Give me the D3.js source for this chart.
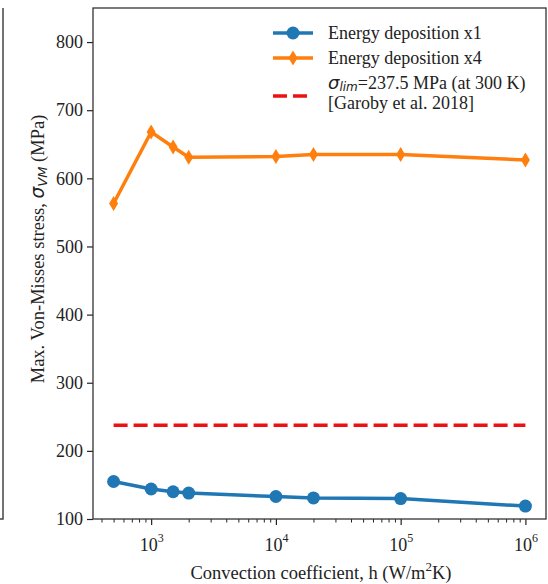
<!DOCTYPE html>
<html>
<head>
<meta charset="utf-8">
<script src="https://cdn.jsdelivr.net/npm/d3@7"></script>
<style>
  body { margin: 0; background: #fff; }
  text { font-family: "Liberation Serif", "Times New Roman", serif; }
</style>
</head>
<body>
<div class="main-container"></div>
<script>
// values
const hValues = [500, 1000, 1500, 2000, 10000, 20000, 100000, 1000000];
const stressX1 = [155, 144, 140, 138, 133, 131, 130, 119];
const stressX4 = [563, 668, 646, 631, 632, 635, 635, 627];
const sigmaLim = 237.5;
const yTicks = [100, 200, 300, 400, 500, 600, 700, 800];
const xMajor = [1e3, 1e4, 1e5, 1e6];
const legendNames = ["Energy deposition x1", "Energy deposition x4"];

const W = 548, H = 584;
let margin = {top: 8, right: 2, bottom: 65, left: 93},
  width = W - margin.left - margin.right,
  height = H - margin.top - margin.bottom;

const root = d3.select(".main-container")
  .append("svg")
  .attr("width", W)
  .attr("height", H);

// edge of the neighbouring panel, cut off at the left
root.append("path")
  .attr("d", `M3,${margin.top} V${margin.top + height} H0`)
  .attr("fill", "none")
  .attr("stroke", "#444")
  .attr("stroke-width", 1.5);

const svg = root.append("g")
  .attr("transform", "translate(" + margin.left + "," + margin.top + ")");

// matplotlib-like 5% margin in log space
const lo = Math.log10(500), hi = Math.log10(1e6), pad = (hi - lo) * 0.05;
let x = d3.scaleLog()
  .domain([Math.pow(10, lo - pad), Math.pow(10, hi + pad)])
  .range([0, width]);

let y = d3.scaleLinear()
  .domain([100, 850])
  .range([height, 0]);

// minor ticks on the log axis
const minor = [];
for (let e = 2; e <= 6; e++) {
  for (let m = 2; m <= 9; m++) {
    const v = m * Math.pow(10, e);
    if (v >= x.domain()[0] && v <= x.domain()[1]) minor.push(v);
  }
}
svg.append("g")
  .attr("transform", "translate(0," + height + ")")
  .call(d3.axisBottom(x).tickValues(minor).tickSize(3.5).tickFormat(""))
  .call(g => g.select(".domain").remove())
  .call(g => g.selectAll("line").attr("stroke", "#222").attr("stroke-width", 1));

const xAxis = svg.append("g")
  .attr("transform", "translate(0," + height + ")")
  .call(d3.axisBottom(x).tickValues(xMajor).tickSize(6).tickFormat(""))
  .call(g => g.select(".domain").remove())
  .call(g => g.selectAll("line").attr("stroke", "#222").attr("stroke-width", 1.2));

xAxis.selectAll(".tick").append("text")
  .attr("y", 32)
  .attr("fill", "#222")
  .attr("font-size", 18)
  .attr("text-anchor", "middle")
  .each(function (d) {
    const t = d3.select(this);
    t.append("tspan").text("10");
    t.append("tspan").attr("dy", -9).attr("font-size", 12).text(Math.round(Math.log10(d)));
  });

svg.append("g")
  .call(d3.axisLeft(y).tickValues(yTicks).tickSize(6).tickPadding(4))
  .call(g => g.select(".domain").remove())
  .call(g => g.selectAll("line").attr("stroke", "#222").attr("stroke-width", 1.2))
  .call(g => g.selectAll("text")
    .attr("fill", "#222")
    .attr("font-size", 18)
    .attr("font-family", "Liberation Serif"));

// frame
svg.append("rect")
  .attr("width", width)
  .attr("height", height)
  .attr("fill", "none")
  .attr("stroke", "#333")
  .attr("stroke-width", 1.3);

// limit line
svg.append("line")
  .attr("x1", x(hValues[0]))
  .attr("x2", x(hValues[hValues.length - 1]))
  .attr("y1", y(sigmaLim))
  .attr("y2", y(sigmaLim))
  .attr("stroke", "#ee1111")
  .attr("stroke-width", 3.5)
  .attr("stroke-dasharray", "14,6");

const pts = (vals) => hValues.map((h, i) => ({h: h, v: vals[i]}));
const line = d3.line().x(d => x(d.h)).y(d => y(d.v));
const diamond = "M0,-7.5 L4.5,0 L0,7.5 L-4.5,0 Z";

svg.append("path")
  .datum(pts(stressX1))
  .attr("fill", "none")
  .attr("stroke", "#1f77b4")
  .attr("stroke-width", 3.5)
  .attr("d", line);
svg.selectAll(".dot1")
  .data(pts(stressX1))
  .enter().append("circle")
  .attr("cx", d => x(d.h))
  .attr("cy", d => y(d.v))
  .attr("r", 6.5)
  .attr("fill", "#1f77b4");

svg.append("path")
  .datum(pts(stressX4))
  .attr("fill", "none")
  .attr("stroke", "#ff7f0e")
  .attr("stroke-width", 3.5)
  .attr("d", line);
svg.selectAll(".dot4")
  .data(pts(stressX4))
  .enter().append("path")
  .attr("transform", d => `translate(${x(d.h)},${y(d.v)})`)
  .attr("d", diamond)
  .attr("fill", "#ff7f0e");

// legend
const leg = root.append("g");
const lx1 = 273, lx2 = 313, tx = 328;
[["#1f77b4", 33], ["#ff7f0e", 58]].forEach((c, i) => {
  leg.append("line")
    .attr("x1", lx1).attr("x2", lx2)
    .attr("y1", c[1]).attr("y2", c[1])
    .attr("stroke", c[0]).attr("stroke-width", 3.5);
  if (i === 0) {
    leg.append("circle").attr("cx", (lx1 + lx2) / 2).attr("cy", c[1]).attr("r", 6.5).attr("fill", c[0]);
  } else {
    leg.append("path").attr("transform", `translate(${(lx1 + lx2) / 2},${c[1]})`).attr("d", diamond).attr("fill", c[0]);
  }
  leg.append("text")
    .attr("x", tx).attr("y", c[1] + 6)
    .attr("font-size", 18).attr("fill", "#222")
    .text(legendNames[i]);
});
leg.append("line")
  .attr("x1", lx1).attr("x2", lx2)
  .attr("y1", 96).attr("y2", 96)
  .attr("stroke", "#ee1111").attr("stroke-width", 3.5)
  .attr("stroke-dasharray", "14,6");
const l3 = leg.append("text")
  .attr("x", tx).attr("y", 89)
  .attr("font-size", 18).attr("fill", "#222");
l3.append("tspan").attr("font-family", "DejaVu Sans").attr("font-style", "italic").attr("font-size", 18).text("σ");
l3.append("tspan").attr("font-family", "DejaVu Sans").attr("font-style", "italic").attr("font-size", 12).attr("dy", 2).text("lim");
l3.append("tspan").attr("dy", -2).text("=237.5 MPa (at 300 K)");
leg.append("text")
  .attr("x", tx).attr("y", 109)
  .attr("font-size", 18).attr("fill", "#222")
  .text("[Garoby et al. 2018]");

// axis labels
root.append("text")
  .attr("x", 321)
  .attr("y", 579)
  .attr("text-anchor", "middle")
  .attr("font-size", 18.5).attr("fill", "#222")
  .call(t => {
    t.append("tspan").text("Convection coefficient, h (W/m");
    t.append("tspan").attr("dy", -8).attr("font-size", 13).text("2");
    t.append("tspan").attr("dy", 8).text("K)");
  });

root.append("text")
  .attr("transform", `translate(44,249) rotate(-90)`)
  .attr("text-anchor", "middle")
  .attr("font-size", 18.5).attr("fill", "#222")
  .call(t => {
    t.append("tspan").text("Max. Von-Misses stress, ");
    t.append("tspan").attr("font-family", "DejaVu Sans").attr("font-style", "italic").text("σ");
    t.append("tspan").attr("font-family", "DejaVu Sans").attr("font-style", "italic").attr("font-size", 13).attr("dy", 3).text("VM");
    t.append("tspan").attr("dy", -3).text(" (MPa)");
  });
</script>
</body>
</html>
